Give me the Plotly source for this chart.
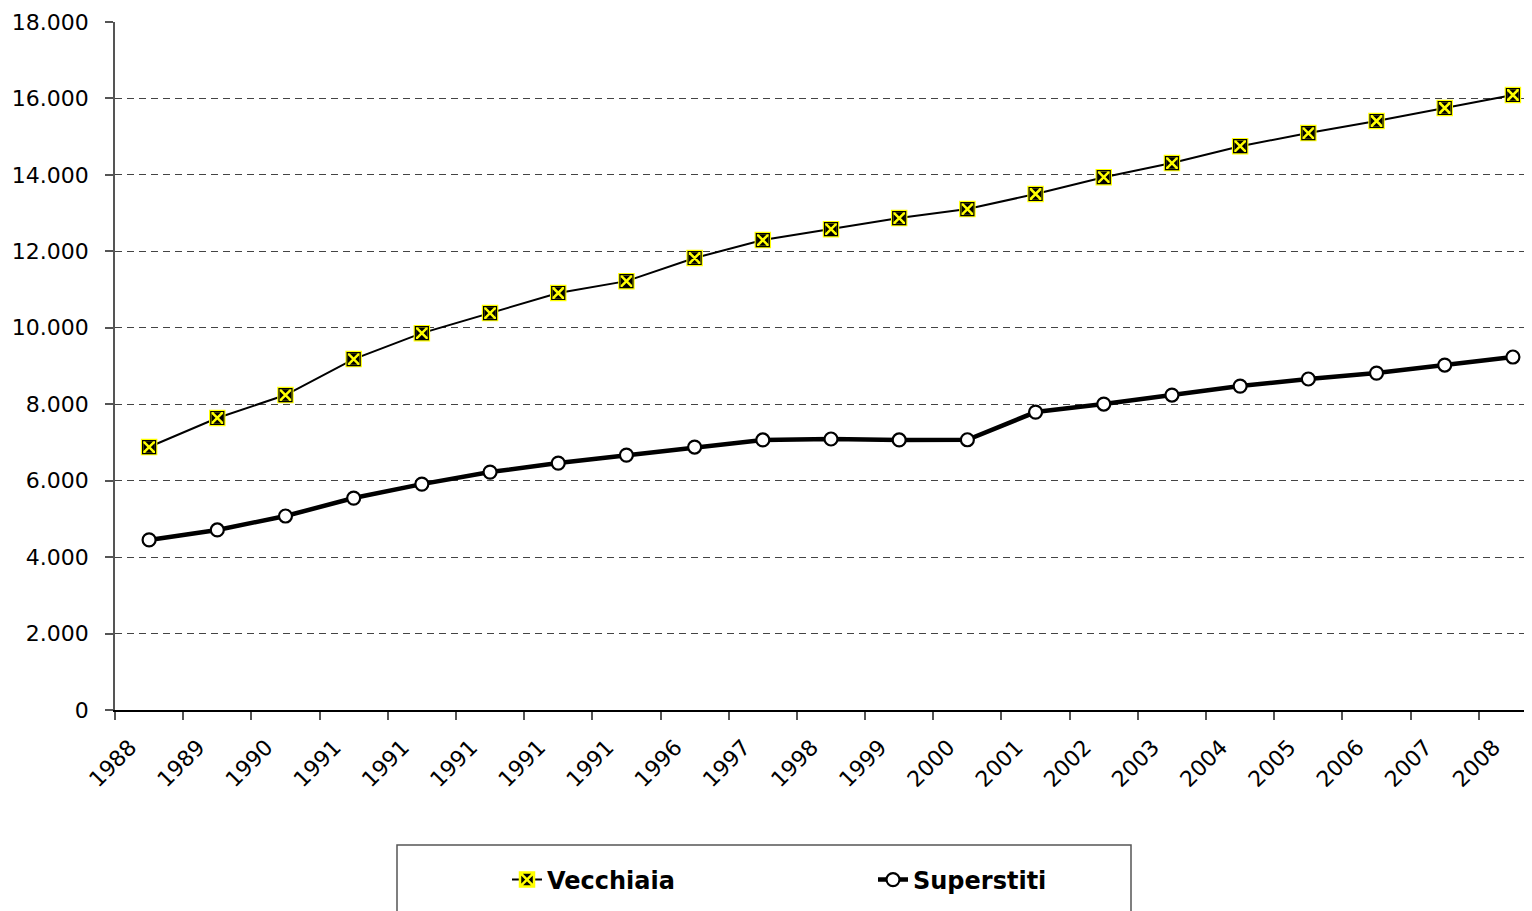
import plotly.graph_objects as go

years = ["1988", "1989", "1990", "1991", "1991", "1991", "1991", "1991", "1996", "1997",
         "1998", "1999", "2000", "2001", "2002", "2003", "2004", "2005", "2006", "2007", "2008"]
vecchiaia = [6880, 7640, 8240, 9180, 9860, 10385, 10910, 11220, 11825, 12295,
             12580, 12870, 13105, 13500, 13940, 14310, 14750, 15095, 15410, 15750, 16090]
superstiti = [4450, 4710, 5075, 5545, 5910, 6225, 6460, 6670, 6880, 7065,
              7090, 7065, 7070, 7795, 8005, 8240, 8475, 8660, 8815, 9025, 9235]
y_ticks = [0, 2000, 4000, 6000, 8000, 10000, 12000, 14000, 16000, 18000]

xpos = list(range(len(years)))

# page has an 8px body margin; figure sized so page fits the 1532x911 window
OFF = 8
W, H = 1532 - OFF, 911 - OFF
# plot area in screen pixels
SL, SR, ST, SB = 115, 1532, 22, 710
L, R, T, B = SL - OFF, SR - OFF, ST - OFF, SB - OFF
pw, ph = R - L, B - T


def px_x(p):
    return (p - SL) / pw


def px_y(p):
    return (SB - p) / ph


font_family = "DejaVu Sans"

fig = go.Figure()

fig.add_trace(go.Scatter(
    x=xpos, y=vecchiaia, name="Vecchiaia", mode="lines+markers",
    line=dict(color="black", width=2),
    marker=dict(symbol="square-x", size=14, color="black",
                line=dict(color="#FFFF00", width=2.5)),
))
fig.add_trace(go.Scatter(
    x=xpos, y=vecchiaia, mode="markers", showlegend=False, hoverinfo="skip",
    marker=dict(symbol="square-open", size=13, color="black",
                line=dict(color="black", width=1.2)),
))
fig.add_trace(go.Scatter(
    x=xpos, y=superstiti, name="Superstiti", mode="lines+markers",
    line=dict(color="black", width=4.5),
    marker=dict(symbol="circle", size=13, color="white",
                line=dict(color="black", width=2.2)),
))

fig.update_layout(
    width=W, height=H,
    margin=dict(l=L, r=W - R, t=T, b=H - B, autoexpand=False),
    paper_bgcolor="white", plot_bgcolor="white",
    font=dict(family=font_family, size=22, color="black"),
    separators=",.",
    showlegend=True,
    legend=dict(
        orientation="h",
        xref="container", yref="container",
        x=499 / W, y=(H - (880 - OFF)) / H, xanchor="left", yanchor="middle",
        font=dict(family=font_family, size=24, color="black", weight="bold"),
        bgcolor="rgba(0,0,0,0)", borderwidth=0,
        entrywidth=321, entrywidthmode="pixels",
    ),
    shapes=[dict(
        type="rect", xref="paper", yref="paper",
        x0=px_x(397), x1=px_x(1131), y0=px_y(845), y1=px_y(940),
        line=dict(color="#555555", width=1.5), fillcolor="rgba(0,0,0,0)", layer="below",
    )],
)

fig.update_xaxes(
    range=[-0.5, 20.28],
    tickmode="array", tickvals=xpos, ticktext=years,
    tickangle=-45, ticks="", showgrid=False, zeroline=False,
    showline=True, linecolor="black", linewidth=1.5,
    tickfont=dict(family=font_family, size=22),
    ticklabelshift=-19, ticklabelstandoff=14,
    minor=dict(tickmode="array", tickvals=[i - 0.5 for i in range(len(years) + 1)],
               ticks="outside", ticklen=8, tickcolor="#555555", tickwidth=1.5, showgrid=False),
)
fig.update_yaxes(
    range=[0, 18000],
    tickmode="array", tickvals=y_ticks, tickformat=",.0f",
    ticks="outside", ticklen=8, tickcolor="#555555", tickwidth=1.5,
    showline=True, linecolor="#555555", linewidth=1.5,
    showgrid=True, gridcolor="#444444", gridwidth=1, griddash="7px,5px",
    zeroline=False, ticklabelstandoff=12,
    tickfont=dict(family=font_family, size=22),
)

fig.write_html("out.html")
